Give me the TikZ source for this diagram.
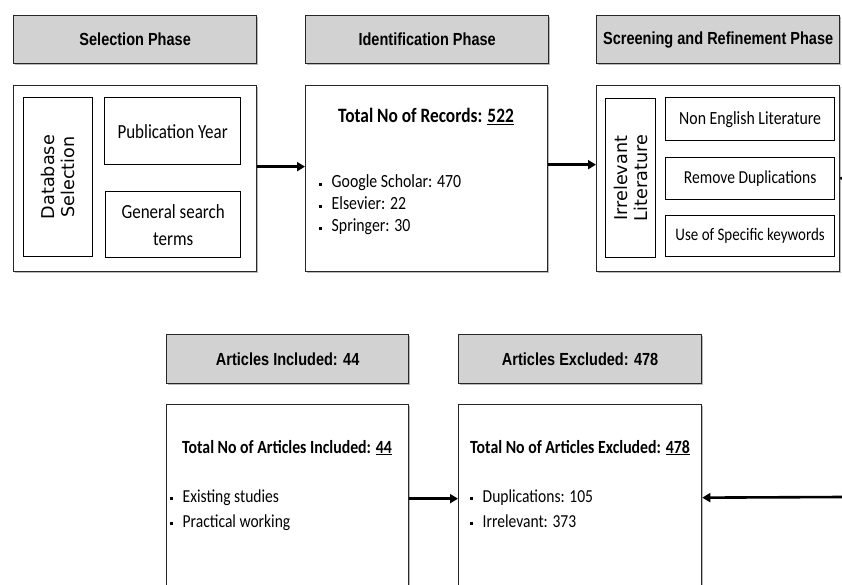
\documentclass[tikz,border=0pt]{standalone}
\usepackage{fontspec}
\setmainfont[FakeStretch=0.85]{Carlito}
\newfontfamily\hdrfont[FakeStretch=0.83]{Liberation Sans}
\newfontfamily\vfont{DejaVu Sans}
\usetikzlibrary{arrows.meta,shadows}
\definecolor{hdrgray}{RGB}{210,210,210}
\newcommand\fsz[2]{\fontsize{#1pt}{#2pt}\selectfont}
\newcommand\bul{\makebox[12.5pt][l]{\raisebox{2.4pt}{\rule{2.3pt}{2.7pt}}}}
\tikzset{
  boxshadow/.style={drop shadow={shadow xshift=0.9pt, shadow yshift=-1.1pt, fill=black!55}},
  hdrbox/.style={draw=black!85, line width=1.3pt, fill=hdrgray, inner sep=0pt, anchor=north west,
    boxshadow, font=\hdrfont\bfseries\fsz{17.5}{20}},
  mainbox/.style={draw=black!85, line width=1.3pt, fill=white, inner sep=0pt, anchor=north west, boxshadow},
  innerbox/.style={draw=black, line width=1.3pt, fill=white, inner sep=0pt, anchor=north west, align=center},
  vtext/.style={rotate=90, align=center, inner sep=0pt, font=\vfont\fsz{17.6}{20}},
  conn/.style={line width=2.6pt, -{Triangle[length=8pt,width=9pt]}},
  stub/.style={line width=2.6pt},
  titletxt/.style={inner sep=0pt, anchor=base},
  bultxt/.style={inner sep=0pt, anchor=base west},
}
\begin{document}
\begin{tikzpicture}[x=1pt,y=-1pt]
\useasboundingbox (0,0) rectangle (842,585);
\clip (0,0) rectangle (842,585);

% headers
\node[hdrbox, minimum width=243pt, minimum height=48pt] (h1) at (13,15) {Selection Phase};
\node[hdrbox, minimum width=243pt, minimum height=48pt] (h2) at (305,15) {Identification Phase};
\node[hdrbox, minimum width=243pt, minimum height=48pt] (h3) at (596,15) {Screening and Refinement Phase};
\node[hdrbox, minimum width=242pt, minimum height=49pt] (h4) at (166,334) {Articles Included: 44};
\node[hdrbox, minimum width=243pt, minimum height=49pt] (h5) at (458,334) {Articles Excluded: 478};

% main boxes
\node[mainbox, minimum width=243pt, minimum height=186pt] (selmain) at (13,85) {};
\node[mainbox, minimum width=242pt, minimum height=186pt] (idmain) at (305,85) {};
\node[mainbox, minimum width=243pt, minimum height=186pt] (scrmain) at (596,85) {};
\node[mainbox, minimum width=242pt, minimum height=220pt] (incmain) at (166,404) {};
\node[mainbox, minimum width=243pt, minimum height=220pt] (excmain) at (458,404) {};

% selection phase inner boxes
\node[innerbox, minimum width=69pt, minimum height=159pt] (db) at (23,97) {};
\node[vtext] (dbt) at (db.center) {Database\\Selection};
\node[innerbox, minimum width=136pt, minimum height=67pt, font=\fsz{20}{27}] (pub) at (104,97) {Publication Year};
\node[innerbox, minimum width=135pt, minimum height=66pt, font=\fsz{20}{27}] (gen) at (105,191) {General search\\terms};

% identification phase text
\node[titletxt, font=\bfseries\fsz{20.4}{22}] (idt) at (426,123) {Total No of Records: \underline{522}};
\node[bultxt, font=\fsz{18.6}{22}] (idb1) at (319,188) {\bul Google Scholar: 470};
\node[bultxt, font=\fsz{18.6}{22}] (idb2) at (319,210) {\bul Elsevier: 22};
\node[bultxt, font=\fsz{18.6}{22}] (idb3) at (319,232) {\bul Springer: 30};

% screening phase inner boxes
\node[innerbox, minimum width=50pt, minimum height=159pt] (irr) at (605,98) {};
\node[vtext] (irrt) at (irr.center) {Irrelevant\\Literature};
\node[innerbox, minimum width=169pt, minimum height=43pt, font=\fsz{18.6}{22}] (neng) at (665,97) {Non English Literature};
\node[innerbox, minimum width=169pt, minimum height=42pt, font=\fsz{18.3}{22}] (rdup) at (665,157) {Remove Duplications};
\node[innerbox, minimum width=169pt, minimum height=41pt, font=\fsz{17.6}{22}] (usek) at (665,215) {Use of Specific keywords};

% included text
\node[titletxt, font=\bfseries\fsz{18.6}{22}] (inct) at (287,453) {Total No of Articles Included: \underline{44}};
\node[bultxt, font=\fsz{18.3}{22}] (incb1) at (170,502) {\bul Existing studies};
\node[bultxt, font=\fsz{18.3}{22}] (incb2) at (170,527) {\bul Practical working};

% excluded text
\node[titletxt, font=\bfseries\fsz{18.6}{22}] (exct) at (580,453) {Total No of Articles Excluded: \underline{478}};
\node[bultxt, font=\fsz{18.3}{22}] (excb1) at (470,502) {\bul Duplications: 105};
\node[bultxt, font=\fsz{18.3}{22}] (excb2) at (470,527) {\bul Irrelevant: 373};

% connectors
\coordinate (edgeA) at (842,178);
\coordinate (edgeB) at (842,497);
\draw[conn] ([yshift=12pt]selmain.east) -- ([yshift=12pt]idmain.west);
\draw[conn] ([yshift=14pt]idmain.east) -- ([yshift=14pt]scrmain.west);
\draw[stub] (scrmain.east) -- (edgeA);
\draw[conn] ([yshift=16pt]incmain.east) -- ([yshift=16pt]excmain.west);
\draw[conn] (edgeB) -- ([yshift=17pt]excmain.east);
\end{tikzpicture}
\end{document}
